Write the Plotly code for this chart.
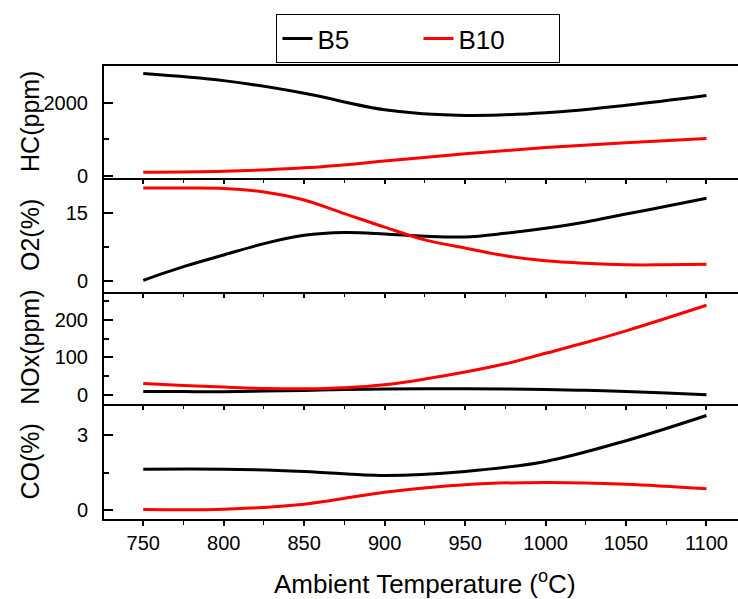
import plotly.graph_objects as go
from plotly.subplots import make_subplots

# ---- data ----
temp_50 = [750, 800, 850, 900, 950, 1000, 1050, 1100]
temp_25 = [750, 775, 800, 825, 850, 875, 900, 925, 950, 975, 1000, 1025, 1050, 1075, 1100]

hc_b5 = [2796, 2600, 2255, 1805, 1648, 1722, 1926, 2194]
hc_b10 = [93, 120, 213, 398, 602, 768, 898, 1018]

o2_b5 = [0.08, 3.1, 5.67, 8.17, 10.0, 10.6, 10.3, 9.8, 9.64, 10.45, 11.55, 12.95, 14.7, 16.4, 18.2]
o2_b10 = [20.45, 20.45, 20.35, 19.57, 17.8, 14.8, 11.8, 9.0, 7.2, 5.5, 4.4, 3.83, 3.5, 3.5, 3.6]

nox_b5 = [9.6, 9.2, 9.0, 10.5, 12.4, 14.5, 15.8, 16.5, 16.7, 16.2, 15.0, 12.5, 9.6, 5.5, 0.5]
nox_b10 = [30.8, 25.5, 21.2, 17.6, 16.7, 19.4, 27.3, 42.4, 61, 83, 111, 139.5, 170.6, 204, 238.7]

co_b5 = [1.65, 1.65, 1.56, 1.40, 1.56, 1.96, 2.79, 3.80]
co_b10 = [0.04, 0.05, 0.25, 0.73, 1.03, 1.12, 1.05, 0.87]

y_titles = ["HC(ppm)", "O2(%)", "NOx(ppm)", "CO(%)"]
x_title = "Ambient Temperature (<sup>o</sup>C)"
series_names = ["B5", "B10"]

FONT = "Arial, Liberation Sans, sans-serif"
C5, C10 = "black", "#ff0000"

fig = make_subplots(rows=4, cols=1, shared_xaxes=True, vertical_spacing=0)

panels = [
    (temp_50, hc_b5, hc_b10),
    (temp_25, o2_b5, o2_b10),
    (temp_25, nox_b5, nox_b10),
    (temp_50, co_b5, co_b10),
]
for i, (t, a, b) in enumerate(panels, start=1):
    fig.add_trace(go.Scatter(x=t, y=a, mode="lines", name=series_names[0],
                             line=dict(color=C5, width=3, shape="spline", smoothing=1),
                             showlegend=(i == 1), legendrank=1), row=i, col=1)
    fig.add_trace(go.Scatter(x=t, y=b, mode="lines", name=series_names[1],
                             line=dict(color=C10, width=3, shape="spline", smoothing=1),
                             showlegend=(i == 1), legendrank=2), row=i, col=1)

domains = [[0.7523, 1.0], [0.5021, 0.7523], [0.2537, 0.5021], [0.0, 0.2537]]
yranges = [[-70, 3000], [-2.4, 22.6], [-24, 275], [-0.344, 4.256]]
ydticks = [2000, 15, 100, 3]
xrange_ = [725.6, 1119.6]

for i in range(4):
    n = "" if i == 0 else str(i + 1)
    last = (i == 3)
    fig.layout["yaxis" + n].update(
        domain=domains[i], range=yranges[i], tick0=0, dtick=ydticks[i],
        showline=True, linecolor="black", linewidth=2, mirror=False,
        ticks="inside", ticklen=9, tickwidth=2, tickcolor="black",
        minor=dict(ticks="inside", ticklen=5, tickwidth=1.5, tickcolor="black",
                   dtick=ydticks[i] / 2),
        showgrid=False, zeroline=False, ticklabelstandoff=10,
        tickfont=dict(family=FONT, size=20, color="black"),
    )
    fig.layout["xaxis" + n].update(
        range=xrange_, tick0=750, dtick=50,
        showline=True, linecolor="black", linewidth=2, mirror=(i == 0),
        ticks="outside", ticklen=5 if last else 4,
        tickwidth=1.5, tickcolor="black",
        minor=dict(ticks="outside", ticklen=4 if last else 3,
                   tickwidth=1.2, tickcolor="black", dtick=25),
        showgrid=False, zeroline=False, showticklabels=last,
        tickfont=dict(family=FONT, size=20, color="black"),
    )

ann = []
ycent = [0.8765, 0.627, 0.378, 0.1268]
for t, yc in zip(y_titles, ycent):
    ann.append(dict(text=t, xref="paper", yref="paper", x=-0.1167, y=yc,
                    xanchor="center", yanchor="middle", textangle=-90, showarrow=False,
                    font=dict(family=FONT, size=25, color="black")))
ann.append(dict(text=x_title, xref="paper", yref="paper", x=0.506, y=-0.1405,
                xanchor="center", yanchor="middle", showarrow=False,
                font=dict(family=FONT, size=26, color="black")))

fig.update_layout(
    width=738, height=599,
    margin=dict(l=104, r=0, t=66, b=80, autoexpand=False),
    paper_bgcolor="white", plot_bgcolor="white",
    annotations=ann,
    legend=dict(orientation="h", x=0.496, xanchor="center", y=1.1147, yanchor="top",
                bordercolor="black", borderwidth=1, bgcolor="white",
                font=dict(family=FONT, size=26, color="black"),
                entrywidth=96, entrywidthmode="pixels",
                tracegroupgap=0),
    showlegend=True,
)

fig.write_html("out.html",
               config={"displayModeBar": False},
               post_script="document.body.style.margin='0';document.body.style.overflow='hidden';")
